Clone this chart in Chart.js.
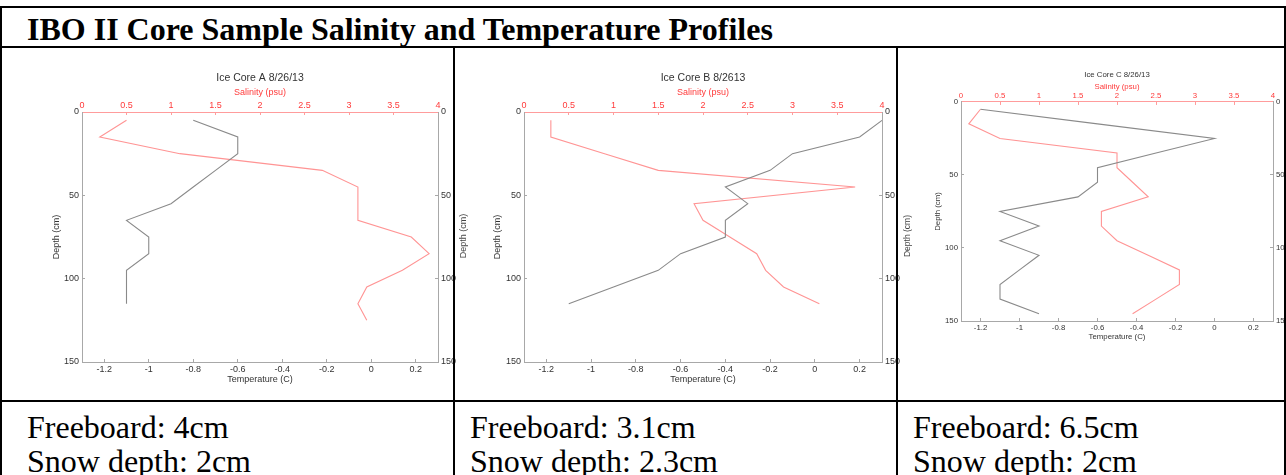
<!DOCTYPE html>
<html>
<head>
<meta charset="utf-8">
<script src="https://cdn.jsdelivr.net/npm/chart.js@4.4.1/dist/chart.umd.min.js"></script>
<style>
body{margin:0;width:1286px;height:475px;overflow:hidden;background:#fff;position:relative;font-family:"Liberation Serif","Times New Roman",serif}
.rule{position:absolute;background:#000;z-index:5}
.head{position:absolute;left:27px;top:13px;font-size:32px;line-height:32px;font-weight:bold;white-space:nowrap}
.note{position:absolute;top:410px;font-size:32px;line-height:34px;white-space:nowrap}
canvas{position:absolute}
.stray{position:absolute;font-family:Arial,"Liberation Sans",sans-serif;color:#444;white-space:nowrap;transform:translate(-50%,-50%) rotate(-90deg)}
</style>
</head>
<body>
<div class="head">IBO II Core Sample Salinity and Temperature Profiles</div>

<canvas id="coreA" width="420" height="335" style="left:40px;top:60px"></canvas>
<canvas id="coreB" width="444" height="335" style="left:456px;top:60px"></canvas>
<canvas id="coreC" width="388" height="290" style="left:898px;top:60px"></canvas>

<div class="stray" style="left:463px;top:236px;font-size:9px">Depth (cm)</div>
<div class="stray" style="left:907px;top:236px;font-size:8.5px">Depth (cm)</div>

<div class="note" style="left:27px">Freeboard: 4cm<br>Snow depth: 2cm</div>
<div class="note" style="left:470px">Freeboard: 3.1cm<br>Snow depth: 2.3cm</div>
<div class="note" style="left:913px">Freeboard: 6.5cm<br>Snow depth: 2cm</div>

<!-- table rules -->
<div class="rule" style="left:0;top:6px;width:1286px;height:2px"></div>
<div class="rule" style="left:0;top:46px;width:1286px;height:2px"></div>
<div class="rule" style="left:0;top:400px;width:1286px;height:2px"></div>
<div class="rule" style="left:0;top:6px;width:2px;height:469px"></div>
<div class="rule" style="left:453px;top:46px;width:2px;height:429px"></div>
<div class="rule" style="left:896px;top:46px;width:2px;height:429px"></div>
<div class="rule" style="left:1284px;top:6px;width:2px;height:469px"></div>

<script>
// tick labels
const tempTicks = [-1.2, -1, -0.8, -0.6, -0.4, -0.2, 0, 0.2];
const salTicks = [0, 0.5, 1, 1.5, 2, 2.5, 3, 3.5, 4];
const depthTicks = [0, 50, 100, 150];

// core A
const depthA = [5, 15, 25, 35, 45, 55, 65, 75, 85, 95, 105, 115];
const tempA = [-0.8, -0.6, -0.6, -0.7, -0.8, -0.9, -1.1, -1.0, -1.0, -1.1, -1.1, -1.1];
const salDepthA = [5, 15, 25, 35, 45, 55, 65, 75, 85, 95, 105, 115, 125];
const salA = [0.5, 0.2, 1.1, 2.7, 3.1, 3.1, 3.1, 3.7, 3.9, 3.6, 3.2, 3.1, 3.2];

// core B
const depthB = [5, 15, 25, 35, 45, 55, 65, 75, 85, 95, 105, 115];
const tempB = [0.3, 0.2, -0.1, -0.2, -0.4, -0.3, -0.4, -0.4, -0.6, -0.7, -0.9, -1.1];
const salDepthB = [5, 15, 25, 35, 45, 55, 65, 75, 85, 95, 105, 115];
const salB = [0.3, 0.3, 0.9, 1.5, 3.7, 1.9, 2.0, 2.3, 2.6, 2.7, 2.9, 3.3];

// core C
const depthC = [5, 15, 25, 35, 45, 55, 65, 75, 85, 95, 105, 115, 125, 135, 145];
const tempC = [-1.2, -0.6, 0, -0.3, -0.6, -0.6, -0.7, -1.1, -0.9, -1.1, -0.9, -1.0, -1.1, -1.1, -0.9];
const salDepthC = [5, 15, 25, 35, 45, 55, 65, 75, 85, 95, 105, 115, 125, 135, 145];
const salC = [0.25, 0.1, 0.5, 2.0, 2.0, 2.2, 2.4, 1.8, 1.8, 2.0, 2.4, 2.8, 2.8, 2.5, 2.2];

const grayLine = '#8a8a8a';
const pinkLine = '#ff9494';
const axisGray = '#a8a8a8';
const axisPink = '#ff9c9c';
const textDark = '#333';
const textRed = '#ff3a3a';

function pts(xs, ys) {
    return xs.map((v, i) => ({x: v, y: ys[i]}));
}
function fixTicks(vals) {
    return s => { s.ticks = vals.map(v => ({value: v})); };
}
const fmt = v => String(Math.round(v * 100) / 100);

function makeChart(id, title, temps, tDepths, sals, sDepths, g) {
    const font = {family: 'Arial, "Liberation Sans", sans-serif', size: g.fs, weight: 'normal', lineHeight: 1.2};
    const titleFont = Object.assign({}, font, {size: g.tfs});
    return new Chart(document.getElementById(id), {
        type: 'scatter',
        data: {
            datasets: [
                {data: pts(temps, tDepths), xAxisID: 'x', yAxisID: 'y', showLine: true,
                 borderColor: grayLine, borderWidth: 1.1, pointRadius: 0},
                {data: pts(sals, sDepths), xAxisID: 'x2', yAxisID: 'y', showLine: true,
                 borderColor: pinkLine, borderWidth: 1.1, pointRadius: 0}
            ]
        },
        options: {
            responsive: false,
            animation: false,
            devicePixelRatio: 1,
            layout: {padding: 0},
            plugins: {
                legend: {display: false},
                tooltip: {enabled: false},
                // fullSize off so the title centres over the plot, not the canvas
                title: {display: true, fullSize: false, text: title, color: textDark, font: titleFont,
                        padding: {top: g.titleTop, bottom: 0}}
            },
            scales: {
                x: {
                    type: 'linear', position: 'bottom', min: -1.3, max: 0.3,
                    afterBuildTicks: fixTicks(tempTicks),
                    afterFit: s => { s.height = g.bottomH; },
                    ticks: {color: textDark, font: font, padding: g.xPad, autoSkip: false, maxRotation: 0, callback: fmt},
                    grid: {drawOnChartArea: false, tickLength: -3, color: axisGray},
                    border: {color: axisGray},
                    title: {display: true, text: 'Temperature (C)', color: textDark, font: font,
                            padding: {top: 0, bottom: g.tempTitlePad}}
                },
                x2: {
                    type: 'linear', position: 'top', min: 0, max: 4,
                    afterBuildTicks: fixTicks(salTicks),
                    afterFit: s => { s.height = g.topH; },
                    ticks: {color: textRed, font: font, padding: g.x2Pad, autoSkip: false, maxRotation: 0, callback: fmt},
                    grid: {drawOnChartArea: false, tickLength: -3, color: axisPink},
                    border: {color: axisPink},
                    title: {display: true, text: 'Salinity (psu)', color: textRed, font: font,
                            padding: {top: g.salTitlePad, bottom: 0}}
                },
                y: {
                    type: 'linear', position: 'left', reverse: true, min: 0, max: 150,
                    afterBuildTicks: fixTicks(depthTicks),
                    afterFit: s => { s.width = g.leftW; },
                    ticks: {color: textDark, font: font, padding: 6, callback: fmt},
                    grid: {drawOnChartArea: false, tickLength: -3, color: axisGray},
                    border: {color: axisGray},
                    title: {display: true, text: 'Depth (cm)', color: textDark, font: font,
                            padding: {top: g.depthTitlePad, bottom: 0}}
                },
                y2: {
                    type: 'linear', position: 'right', reverse: true, min: 0, max: 150,
                    afterBuildTicks: fixTicks(depthTicks),
                    afterFit: s => { s.width = g.rightW; },
                    ticks: {color: textDark, font: font, padding: 6, callback: fmt},
                    grid: {drawOnChartArea: false, tickLength: -3, color: axisGray},
                    border: {color: axisGray}
                }
            }
        }
    });
}

makeChart('coreA', 'Ice Core A 8/26/13', tempA, depthA, salA, salDepthA,
    {fs: 9, tfs: 10.5, titleTop: 11.7, topH: 27.7, bottomH: 33, leftW: 42, rightW: 22,
     xPad: 5.5, x2Pad: 4.5, salTitlePad: 3.3, tempTitlePad: 9.6, depthTitlePad: 11.6});
makeChart('coreB', 'Ice Core B 8/2613', tempB, depthB, salB, salDepthB,
    {fs: 9, tfs: 10.5, titleTop: 11.7, topH: 27.7, bottomH: 33, leftW: 68, rightW: 18,
     xPad: 5.5, x2Pad: 4.5, salTitlePad: 3.3, tempTitlePad: 9.6, depthTitlePad: 36.6});
makeChart('coreC', 'Ice Core C 8/26/13', tempC, depthC, salC, salDepthC,
    {fs: 7.8, tfs: 7.8, titleTop: 10.3, topH: 22.3, bottomH: 29, leftW: 63, rightW: 13,
     xPad: 5.5, x2Pad: 4, salTitlePad: 2.8, tempTitlePad: 8.3, depthTitlePad: 35.3});
</script>
</body>
</html>
